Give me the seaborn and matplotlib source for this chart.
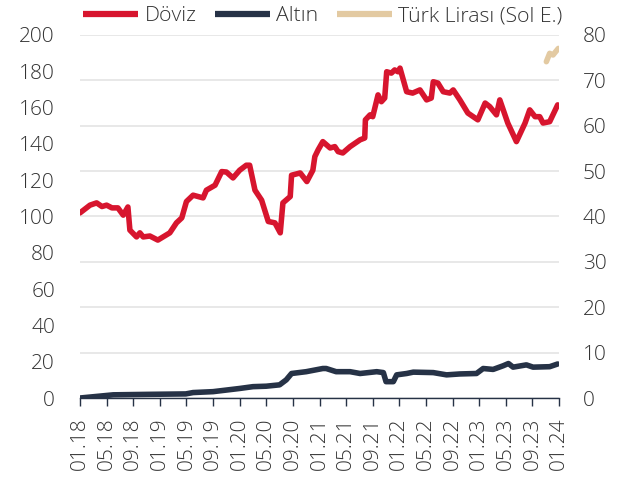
import pandas as pd
import matplotlib.pyplot as plt
import seaborn as sns

# months since 01.2018 and values
doviz_ay = [0, 1.5, 2.5, 3.3, 4.0, 4.8, 5.7, 6.5, 7.2, 7.5, 8.5, 9.0, 9.5, 10.5, 11.7,
            13.5, 14.5, 15.3, 16.0, 17.0, 18.5, 19.0, 20.3, 21.3, 22.0, 23.0, 24.0,
            25.0, 25.5, 26.3, 27.3, 28.3, 29.3, 30.1, 30.5, 31.6, 31.8, 33.1, 34.1,
            35.0, 35.3, 35.8, 36.5, 37.6, 38.3, 38.8, 39.5, 40.6, 42.1, 42.8, 42.9,
            43.6, 44.0, 44.8, 45.3, 45.8, 46.1, 46.8, 47.3, 47.8, 48.1, 49.1, 50.0,
            51.1, 52.1, 52.8, 53.1, 53.8, 54.6, 55.6, 56.1, 57.1, 58.3, 59.8, 60.9,
            61.6, 62.6, 63.1, 64.3, 65.6, 66.9, 67.6, 68.4, 69.1, 69.6, 70.6, 71.8]
doviz = [40.8, 42.5, 43.0, 42.2, 42.5, 41.9, 41.9, 40.3, 42.1, 37.0, 35.5, 36.4, 35.5,
         35.7, 34.8, 36.4, 38.6, 39.7, 43.3, 44.7, 44.1, 45.8, 46.9, 49.9, 49.8, 48.5,
         50.2, 51.3, 51.3, 45.8, 43.6, 38.9, 38.6, 36.4, 43.0, 44.4, 49.1, 49.6, 47.7,
         50.2, 53.2, 54.7, 56.5, 55.1, 55.4, 54.3, 54.0, 55.4, 56.9, 57.3, 61.3, 62.4,
         62.0, 66.8, 65.3, 66.1, 71.9, 71.6, 72.3, 71.9, 72.7, 67.5, 67.2, 67.9, 65.7,
         66.1, 69.7, 69.4, 67.5, 67.2, 67.9, 65.7, 62.8, 61.3, 65.0, 64.2, 62.4, 65.7,
         60.6, 56.5, 60.6, 63.5, 62.0, 62.0, 60.6, 60.9, 64.6]

altin_ay = [0, 5.0, 10.0, 15.9, 17.0, 20.0, 24.0, 26.0, 28.0, 30.0, 31.0, 31.8, 34.0,
            36.5, 37.0, 38.5, 40.6, 42.1, 44.6, 45.6, 46.0, 47.1, 47.6, 49.1, 50.1,
            53.1, 55.1, 57.1, 59.6, 60.6, 62.1, 63.6, 64.4, 65.1, 67.1, 68.1, 70.6, 71.8]
altin = [0.0, 0.7, 0.8, 0.9, 1.2, 1.4, 2.1, 2.5, 2.6, 2.9, 4.0, 5.4, 5.8, 6.5, 6.5,
         5.8, 5.8, 5.4, 5.8, 5.6, 3.6, 3.6, 5.1, 5.4, 5.7, 5.6, 5.1, 5.3, 5.4, 6.5,
         6.3, 7.1, 7.6, 6.8, 7.3, 6.8, 6.9, 7.5]

tl_ay = [70.1, 70.6, 71.1, 71.9]
tl = [185.3, 189.9, 189.0, 192.6]

x_ticks = list(range(0, 73, 4))
x_labels = ["01.18", "05.18", "09.18", "01.19", "05.19", "09.19", "01.20", "05.20",
            "09.20", "01.21", "05.21", "09.21", "01.22", "05.22", "09.22", "01.23",
            "05.23", "09.23", "01.24"]

sns.set_style("white")
plt.rcParams["font.family"] = ["Open Sans", "DejaVu Sans"]

red = "#d7152e"
navy = "#263246"
beige = "#e3caa2"
txt = "#333333"

fig, ax = plt.subplots(figsize=(6.38, 4.84), dpi=100)
fig.subplots_adjust(left=80/638, right=559/638, top=1-35/484, bottom=1-398/484)
ax2 = ax.twinx()

sns.lineplot(x=doviz_ay, y=doviz, ax=ax2, color=red, lw=4, label="Döviz", legend=False)
sns.lineplot(x=altin_ay, y=altin, ax=ax2, color=navy, lw=4, label="Altın", legend=False)
sns.lineplot(x=tl_ay, y=tl, ax=ax, color=beige, lw=4, label="Türk Lirası (Sol E.)", legend=False)

# left axis (with TL) drawn on top, grid comes from the right axis
ax.set_zorder(ax2.get_zorder() + 1)
ax.patch.set_visible(False)

ax.set_ylim(0, 200)
ax.set_yticks(range(0, 201, 20))
ax2.set_ylim(0, 80)
ax2.set_yticks(range(0, 81, 10))
ax.set_xlim(0, 72)
ax.set_xticks(x_ticks)
ax.set_xticklabels(x_labels, rotation=90)

ax2.grid(True, axis="y", color="#e4e4e4", lw=1.2)
ax2.xaxis.grid(True, color="#e4e4e4", lw=1.2)
ax2.set_axisbelow(True)

for a in (ax, ax2):
    for s in a.spines.values():
        s.set_visible(False)
ax.spines["bottom"].set_visible(True)
ax.spines["bottom"].set_color(navy)
ax.spines["bottom"].set_linewidth(1)

ax.tick_params(axis="y", length=0, pad=18, labelsize=15, labelcolor=txt)
ax2.tick_params(axis="y", length=0, pad=17, labelsize=15, labelcolor=txt)
ax.tick_params(axis="x", length=6, width=1, color=navy, pad=8, labelsize=15, labelcolor=txt,
               bottom=True)
ax2.tick_params(axis="x", length=0)

for lab in ax.get_xticklabels() + ax.get_yticklabels() + ax2.get_yticklabels():
    lab.set_fontweight("light")

h2, l2 = ax2.get_legend_handles_labels()
h1, l1 = ax.get_legend_handles_labels()
leg = fig.legend(h2 + h1, l2 + l1, loc="upper left", bbox_to_anchor=(81/638, 1 - 4/484),
                 ncol=3, frameon=False, fontsize=15.3, handlelength=2.6,
                 handletextpad=0.3, columnspacing=0.85, borderpad=0.1, borderaxespad=0)
for t in leg.get_texts():
    t.set_color(txt)
    t.set_fontweight("light")
for line in leg.get_lines():
    line.set_linewidth(4.5)
    line.set_solid_capstyle("butt")

plt.savefig("out.png", dpi=100)
